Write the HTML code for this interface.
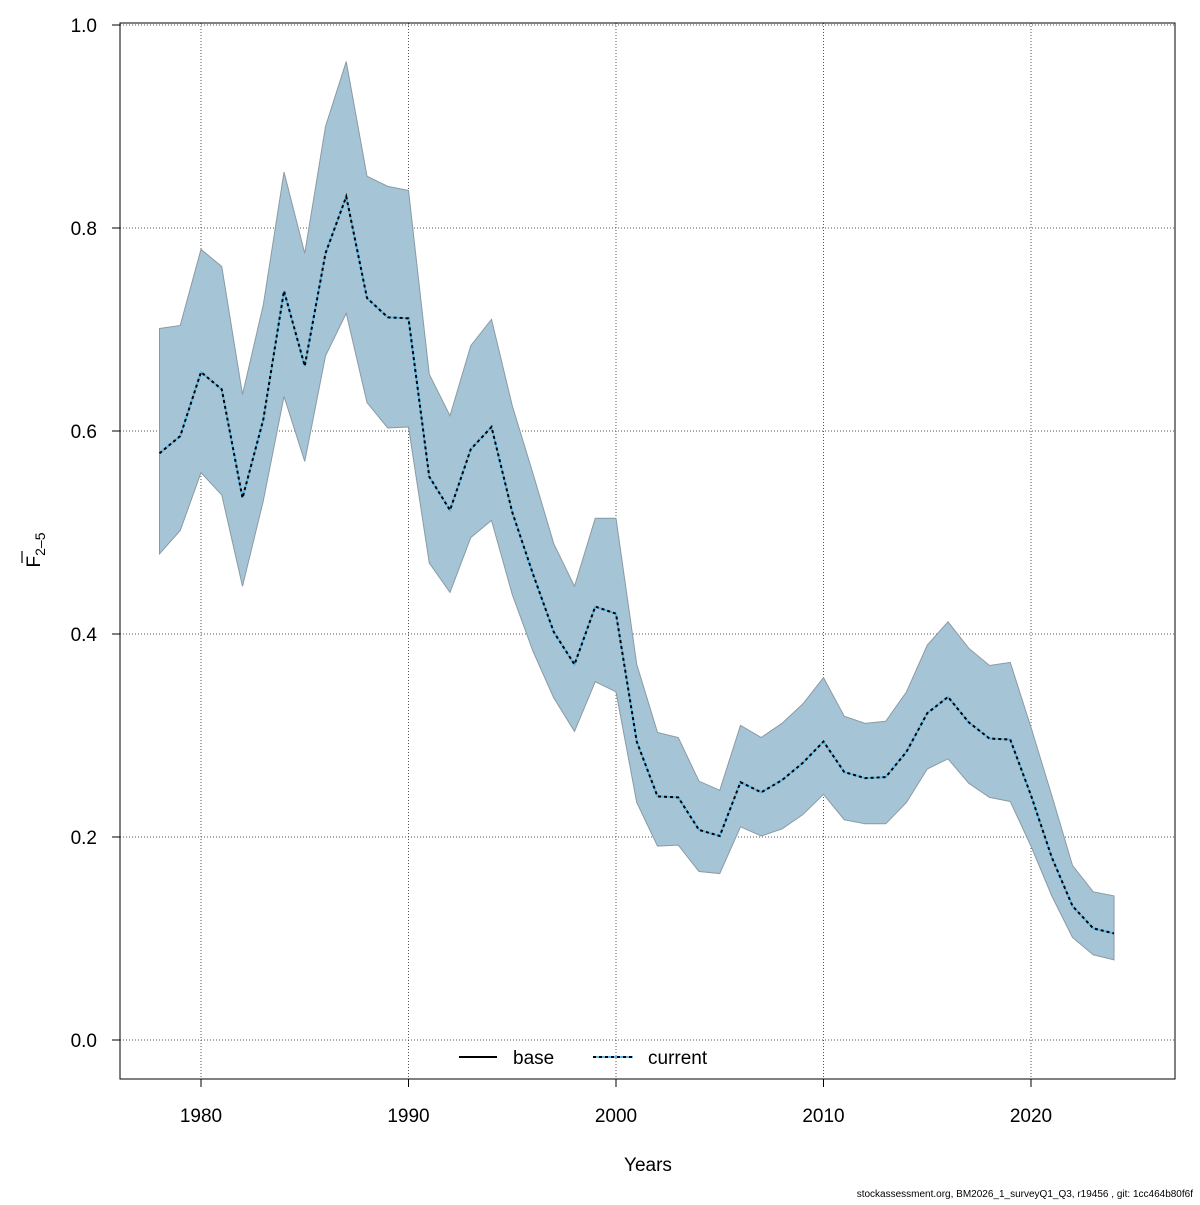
<!DOCTYPE html>
<html><head><meta charset="utf-8"><style>
body{margin:0;background:#fff;}
svg text{font-family:"Liberation Sans",sans-serif;}
</style></head><body>
<svg id="chart" width="1200" height="1200" xmlns="http://www.w3.org/2000/svg">
<g id="grid"></g>
<g id="band"></g>
<g id="lines"></g>
<rect x="120" y="23" width="1055" height="1056" fill="none" stroke="#000" stroke-width="1"/>
<g id="axes"></g>
<text x="648" y="1171" font-size="19" text-anchor="middle">Years</text>
<g transform="translate(40,550) rotate(-90)">
<text x="0" y="0" font-size="19" text-anchor="middle">F<tspan font-size="14" dy="5">2–5</tspan></text>
<line x1="-13" y1="-18" x2="-1" y2="-18" stroke="#000" stroke-width="1.2"/>
</g>
<g>
<g>
<line x1="459" y1="1057" x2="497" y2="1057" stroke="#000" stroke-width="2"/>
<text x="513" y="1064" font-size="19">base</text></g>
<g>
<line x1="593" y1="1057" x2="633" y2="1057" stroke="#5bb8e8" stroke-width="2"/>
<line x1="593" y1="1057" x2="633" y2="1057" stroke="#000" stroke-width="2" stroke-dasharray="3,3"/>
<text x="648" y="1064" font-size="19">current</text></g>
</g>
<text x="1193" y="1197" font-size="10" text-anchor="end">stockassessment.org, BM2026_1_surveyQ1_Q3, r19456 , git: 1cc464b80f6f</text>
</svg>
<script>
const years=[];for(let y=1978;y<=2024;y++)years.push(y);
const mid=[.578,.595,.658,.641,.534,.611,.738,.664,.775,.831,.731,.712,.711,.555,.522,.582,.604,.520,.459,.402,.370,.427,.420,.294,.240,.239,.207,.201,.254,.244,.256,.273,.294,.264,.258,.259,.284,.322,.338,.313,.297,.296,.241,.180,.132,.110,.105];
const upper=[.701,.704,.779,.762,.636,.724,.855,.775,.900,.964,.851,.841,.837,.656,.615,.684,.710,.625,.558,.489,.447,.514,.514,.370,.303,.298,.255,.246,.310,.298,.312,.331,.357,.319,.312,.314,.343,.389,.412,.386,.369,.372,.308,.241,.172,.146,.142];
const lower=[.479,.502,.559,.537,.447,.531,.634,.570,.674,.716,.628,.603,.604,.470,.441,.495,.512,.439,.383,.337,.304,.353,.343,.234,.191,.192,.166,.164,.210,.201,.208,.222,.242,.217,.213,.213,.234,.267,.277,.253,.239,.235,.191,.142,.101,.084,.079];
const xTicks=[1980,1990,2000,2010,2020];
const yTicks=[0,0.2,0.4,0.6,0.8,1.0];
const yLabels=["0.0","0.2","0.4","0.6","0.8","1.0"];
const X=y=>201+(y-1980)*20.75;
const Y=v=>1040-v*1015;
const NS="http://www.w3.org/2000/svg";
function mk(tag,attrs,parent){const e=document.createElementNS(NS,tag);for(const k in attrs)e.setAttribute(k,attrs[k]);parent.appendChild(e);return e;}
const grid=document.getElementById('grid'),axes=document.getElementById('axes');
xTicks.forEach(t=>{
 const g=mk('line',{x1:X(t),x2:X(t),y1:23,y2:1079,stroke:'#555','stroke-dasharray':'1,2'},grid);
 
 
 const tk=mk('line',{x1:X(t),x2:X(t),y1:1079,y2:1087,stroke:'#000'},axes);
 
 
 const tx=mk('text',{x:X(t),y:1122,'font-size':19,'text-anchor':'middle'},axes);tx.textContent=t;
 
 
});
yTicks.forEach((t,i)=>{
 const g=mk('line',{x1:120,x2:1175,y1:Y(t),y2:Y(t),stroke:'#555','stroke-dasharray':'1,2'},grid);
 
 
 const tk=mk('line',{x1:112,x2:120,y1:Y(t),y2:Y(t),stroke:'#000'},axes);
 
 
 const tx=mk('text',{x:97,y:Y(t)+7,'font-size':19,'text-anchor':'end'},axes);tx.textContent=yLabels[i];
 
 
});
let pts=years.map((y,i)=>X(y)+','+Y(upper[i]));
for(let i=years.length-1;i>=0;i--)pts.push(X(years[i])+','+Y(lower[i]));
const band=mk('polygon',{points:pts.join(' '),fill:'#a5c5d6',stroke:'#8a9aa4','stroke-width':1},document.getElementById('band'));


const lp=years.map((y,i)=>X(y)+','+Y(mid[i])).join(' ');
const L=document.getElementById('lines');
const b=mk('polyline',{points:lp,fill:'none',stroke:'#5bb8e8','stroke-width':2},L);


const c=mk('polyline',{points:lp,fill:'none',stroke:'#000','stroke-width':2,'stroke-dasharray':'3,3'},L);


</script>
</body></html>
